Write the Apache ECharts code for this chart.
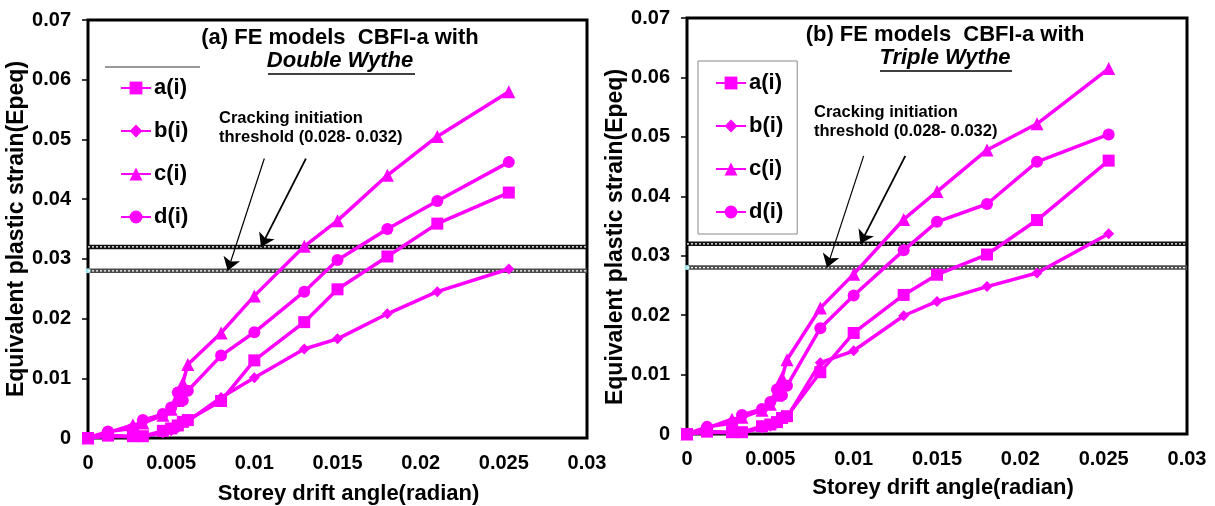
<!DOCTYPE html>
<html>
<head>
<meta charset="utf-8">
<script src="https://cdn.jsdelivr.net/npm/echarts@6/dist/echarts.min.js"></script>
<style>
  html, body { margin: 0; padding: 0; background: #fff; }
  #chart { width: 1215px; height: 506px; }
</style>
</head>
<body>
<div id="chart"></div>
<script>
// drift angle points (shared by both panels)
var drift = [0, 0.0012, 0.0027, 0.0033, 0.0045, 0.005, 0.0054, 0.0057, 0.006, 0.008, 0.01, 0.013, 0.015, 0.018, 0.021, 0.0253];

// (a) Double Wythe
var aDouble = [0, 0.0004, 0.0003, 0.0003, 0.0012, 0.0016, 0.0021, 0.0027, 0.003, 0.0062, 0.013, 0.0194, 0.0249, 0.0304, 0.0359, 0.0411];
var bDouble = [0, 0.0003, 0.0002, 0.0002, 0.0009, 0.0012, 0.0017, 0.0024, 0.0028, 0.0068, 0.0101, 0.0149, 0.0166, 0.0208, 0.0245, 0.0283];
var cDouble = [0, 0.0009, 0.0022, 0.0025, 0.0038, 0.0048, 0.0063, 0.0092, 0.0123, 0.0176, 0.0238, 0.0321, 0.0364, 0.044, 0.0505, 0.058];
var dDouble = [0, 0.0011, 0.0016, 0.003, 0.004, 0.0051, 0.0076, 0.0063, 0.0079, 0.0138, 0.0177, 0.0245, 0.0298, 0.035, 0.0397, 0.0462];

// (b) Triple Wythe
var aTriple = [0, 0.0004, 0.0003, 0.0003, 0.0013, 0.0016, 0.002, 0.0027, 0.003, 0.0104, 0.017, 0.0234, 0.0268, 0.0302, 0.036, 0.046];
var bTriple = [0, 0.0003, 0.0002, 0.0002, 0.001, 0.0013, 0.0018, 0.0025, 0.0028, 0.012, 0.014, 0.0199, 0.0223, 0.0248, 0.0271, 0.0337];
var cTriple = [0, 0.001, 0.0025, 0.0028, 0.004, 0.005, 0.0065, 0.0095, 0.0125, 0.0212, 0.0269, 0.0361, 0.0408, 0.0478, 0.0522, 0.0615];
var dTriple = [0, 0.0012, 0.0018, 0.0032, 0.0042, 0.0054, 0.0075, 0.0065, 0.0081, 0.0178, 0.0233, 0.0309, 0.0357, 0.0387, 0.0458, 0.0504];

var names = ["a(i)", "b(i)", "c(i)", "d(i)"];
var thresholds = [0.032, 0.028];
// arrows: [startX, startY, endX, endY]
var arrows = [
  [0.0106, 0.0468, 0.0084, 0.028],
  [0.0131, 0.0468, 0.0104, 0.032]
];

var font = "Liberation Sans, Arial, sans-serif";
var magenta = "#ff00ff";
var symbols = [
  { symbol: "rect", size: 12 },
  { symbol: "diamond", size: 11 },
  { symbol: "triangle", size: 13 },
  { symbol: "circle", size: 12 }
];

function pairs(ys) {
  return drift.map(function (x, i) { return [x, ys[i]]; });
}

function curveSeries(idx, sets) {
  return sets.map(function (ys, k) {
    return {
      name: names[k],
      type: "line",
      xAxisIndex: idx,
      yAxisIndex: idx,
      data: pairs(ys),
      symbol: symbols[k].symbol,
      symbolSize: symbols[k].size,
      color: magenta,
      lineStyle: { color: magenta, width: 3.5 },
      itemStyle: { color: magenta },
      z: 5
    };
  });
}

function thresholdSeries(idx) {
  var list = [];
  thresholds.forEach(function (v, k) {
    var dark = k === 0 ? "#111" : "#4a4a4a";
    var first = { value: [0, v], symbol: "none" };
    if (k === 1) {
      first = { value: [0, v], symbol: "circle", symbolSize: 5, itemStyle: { color: "#9fe8ee" } };
    }
    list.push({
      type: "line", xAxisIndex: idx, yAxisIndex: idx, silent: true,
      data: [first, { value: [0.03, v], symbol: "none" }],
      lineStyle: { color: dark, width: 4.5 }, z: 3
    });
    list.push({
      type: "line", xAxisIndex: idx, yAxisIndex: idx, silent: true, symbol: "none",
      data: [[0, v], [0.03, v]],
      lineStyle: { color: "#fff", width: 1.2, type: [2, 2] }, z: 4
    });
  });
  arrows.forEach(function (a, k) {
    list.push({
      type: "lines", coordinateSystem: "cartesian2d", xAxisIndex: idx, yAxisIndex: idx,
      silent: true,
      symbol: ["none", "arrow"], symbolSize: 13,
      lineStyle: { color: "#000", width: k === 0 ? 1.2 : 1.8, opacity: 1 },
      data: [{ coords: [[a[0], a[1]], [a[2], a[3]]] }],
      z: 6
    });
  });
  return list;
}

function xAxis(idx, nameShift, gap) {
  return {
    type: "value", gridIndex: idx, min: 0, max: 0.03, interval: 0.005,
    name: "Storey drift angle(radian)", nameLocation: "middle", nameGap: gap,
    nameTextStyle: { fontFamily: font, fontWeight: "bold", fontSize: 22, color: "#000", padding: [0, 0, 0, nameShift] },
    axisLine: { show: false }, axisTick: { show: false }, splitLine: { show: false },
    axisLabel: { fontFamily: font, fontWeight: "bold", fontSize: 20, color: "#000", margin: 15 }
  };
}

function yAxis(idx, nameShift) {
  return {
    type: "value", gridIndex: idx, min: 0, max: 0.07, interval: 0.01,
    name: "Equivalent plastic strain(Epeq)", nameLocation: "middle", nameGap: 56,
    nameTextStyle: { fontFamily: font, fontWeight: "bold", fontSize: 23, color: "#000", padding: [0, 0, 0, nameShift] },
    axisLine: { show: false }, splitLine: { show: false },
    axisTick: { show: true, inside: false, length: 6, lineStyle: { color: "#000", width: 1.5 } },
    axisLabel: { fontFamily: font, fontWeight: "bold", fontSize: 20, color: "#000", margin: 17 }
  };
}

function legend(left, top, boxed) {
  return {
    data: names, orient: "vertical", left: left, top: top,
    itemWidth: 30, itemHeight: 16, itemGap: 21,
    padding: boxed ? [11, 14, 11, 17] : 0,
    borderColor: boxed ? "#888" : "transparent", borderWidth: boxed ? 1 : 0,
    textStyle: { fontFamily: font, fontWeight: "bold", fontSize: 22, color: "#000", padding: [0, 0, 0, -2] },
    selectedMode: false
  };
}

function title(cx, top, line1, line2) {
  return {
    text: line1, subtext: line2, left: cx, top: top, textAlign: "center", itemGap: 1, padding: 0,
    textStyle: { fontFamily: font, fontWeight: "bold", fontSize: 22, color: "#000" },
    subtextStyle: { fontFamily: font, fontWeight: "bold", fontStyle: "italic", fontSize: 22, color: "#000" }
  };
}

var chart = echarts.init(document.getElementById("chart"));
var option = {
  animation: false,
  backgroundColor: "#fff",
  title: [
    title(340, 27, "(a) FE models  CBFI-a with", "Double Wythe"),
    title(945, 24, "(b) FE models  CBFI-a with", "Triple Wythe")
  ],
  legend: [legend(120, 77, false), legend(698, 61, true)],
  grid: [
    { left: 88, top: 20, width: 499, height: 418, outerBoundsMode: "none", show: true, borderColor: "#000", borderWidth: 3, backgroundColor: "transparent" },
    { left: 687, top: 18, width: 500, height: 416, outerBoundsMode: "none", show: true, borderColor: "#000", borderWidth: 3, backgroundColor: "transparent" }
  ],
  xAxis: [xAxis(0, 22, 45), xAxis(1, 12, 43)],
  yAxis: [yAxis(0, 0), yAxis(1, -22)],
  graphic: [
    { type: "line", shape: { x1: 105, y1: 67, x2: 200, y2: 67 }, style: { stroke: "#333", lineWidth: 1 } },
    { type: "line", shape: { x1: 268, y1: 74, x2: 415, y2: 74 }, style: { stroke: "#000", lineWidth: 1.5 } },
    { type: "line", shape: { x1: 880, y1: 71, x2: 1012, y2: 71 }, style: { stroke: "#000", lineWidth: 1.5 } },
    { type: "text", left: 219, top: 109, style: { text: "Cracking initiation\nthreshold (0.028- 0.032)", font: "bold 16.5px " + font, fill: "#000", lineHeight: 19 } },
    { type: "text", left: 814, top: 103, style: { text: "Cracking initiation\nthreshold (0.028- 0.032)", font: "bold 16.5px " + font, fill: "#000", lineHeight: 19 } }
  ],
  series: []
    .concat(thresholdSeries(0))
    .concat(curveSeries(0, [aDouble, bDouble, cDouble, dDouble]))
    .concat(thresholdSeries(1))
    .concat(curveSeries(1, [aTriple, bTriple, cTriple, dTriple]))
};
chart.setOption(option);
</script>
</body>
</html>
